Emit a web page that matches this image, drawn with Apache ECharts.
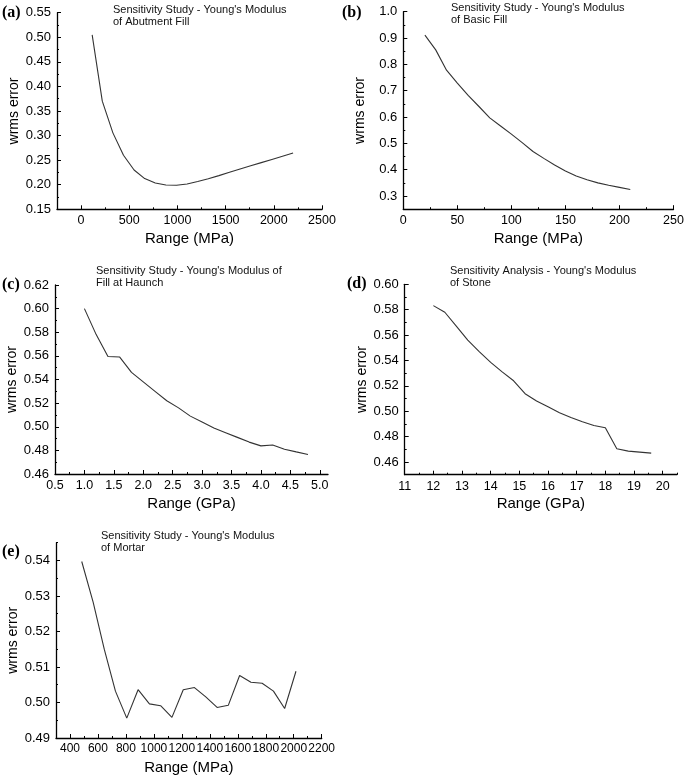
<!DOCTYPE html>
<html><head><meta charset="utf-8">
<script src="https://cdn.jsdelivr.net/npm/echarts@6/dist/echarts.min.js"></script>
<style>html,body{margin:0;padding:0;background:#fff}#c{width:685px;height:778px}</style>
</head><body><div id="c"></div>
<script>
// ---- Panel (a): Abutment Fill ----
const aX = [115, 220, 330, 440, 550, 660, 770, 880, 990, 1100, 1210, 1320, 1430, 1540, 1650, 1760, 1870, 1980, 2090, 2200];
const aY = [0.505, 0.370, 0.3055, 0.260, 0.230, 0.2125, 0.2035, 0.1995, 0.199, 0.2015, 0.2065, 0.212, 0.2185, 0.2255, 0.232, 0.2385, 0.245, 0.2515, 0.258, 0.2645];
const aXTicks = ['0', '500', '1000', '1500', '2000', '2500'];
const aYTicks = ['0.15', '0.20', '0.25', '0.30', '0.35', '0.40', '0.45', '0.50', '0.55'];

// ---- Panel (b): Basic Fill ----
const bX = [20, 30, 40, 50, 60, 70, 80, 90, 100, 110, 120, 130, 140, 150, 160, 170, 180, 190, 200, 210];
const bY = [0.911, 0.855, 0.778, 0.729, 0.682, 0.640, 0.597, 0.566, 0.535, 0.503, 0.469, 0.443, 0.418, 0.395, 0.376, 0.362, 0.350, 0.341, 0.333, 0.325];
const bXTicks = ['0', '50', '100', '150', '200', '250'];
const bYTicks = ['0.3', '0.4', '0.5', '0.6', '0.7', '0.8', '0.9', '1.0'];

// ---- Panel (c): Fill at Haunch ----
const cX = [1.0, 1.2, 1.4, 1.6, 1.8, 2.0, 2.2, 2.4, 2.6, 2.8, 3.0, 3.2, 3.4, 3.6, 3.8, 4.0, 4.2, 4.4, 4.6, 4.8];
const cY = [0.600, 0.578, 0.5595, 0.559, 0.546, 0.538, 0.530, 0.522, 0.516, 0.509, 0.504, 0.499, 0.495, 0.491, 0.487, 0.4838, 0.4845, 0.481, 0.4787, 0.4765];
const cXTicks = ['0.5', '1.0', '1.5', '2.0', '2.5', '3.0', '3.5', '4.0', '4.5', '5.0'];
const cYTicks = ['0.46', '0.48', '0.50', '0.52', '0.54', '0.56', '0.58', '0.60', '0.62'];

// ---- Panel (d): Stone ----
const dX = [12.0, 12.4, 12.8, 13.2, 13.6, 14.0, 14.4, 14.8, 15.2, 15.6, 16.0, 16.4, 16.8, 17.2, 17.6, 18.0, 18.4, 18.8, 19.2, 19.6];
const dY = [0.5832, 0.578, 0.567, 0.556, 0.547, 0.5385, 0.531, 0.524, 0.5138, 0.508, 0.5035, 0.4988, 0.4951, 0.4917, 0.4888, 0.487, 0.4704, 0.4686, 0.4678, 0.467];
const dXTicks = ['11', '12', '13', '14', '15', '16', '17', '18', '19', '20'];
const dYTicks = ['0.46', '0.48', '0.50', '0.52', '0.54', '0.56', '0.58', '0.60'];

// ---- Panel (e): Mortar ----
const eX = [484, 566, 645, 725, 806, 887, 968, 1048, 1129, 1210, 1290, 1371, 1452, 1532, 1613, 1694, 1774, 1855, 1935, 2016];
const eY = [0.5397, 0.5282, 0.515, 0.5032, 0.4956, 0.5036, 0.4996, 0.4991, 0.4958, 0.5036, 0.5042, 0.5016, 0.4986, 0.4992, 0.5076, 0.5057, 0.5054, 0.5032, 0.4983, 0.5088];
const eXTicks = ['400', '600', '800', '1000', '1200', '1400', '1600', '1800', '2000', '2200'];
const eYTicks = ['0.49', '0.50', '0.51', '0.52', '0.53', '0.54'];

const titles = [
  "Sensitivity Study - Young's Modulus\nof Abutment Fill",
  "Sensitivity Study - Young's Modulus\nof Basic Fill",
  "Sensitivity Study - Young's Modulus of\nFill at Haunch",
  "Sensitivity Analysis - Young's Modulus\nof Stone",
  "Sensitivity Study - Young's Modulus\nof Mortar"
];
const letters = ['(a)', '(b)', '(c)', '(d)', '(e)'];
const xNames = ['Range (MPa)', 'Range (MPa)', 'Range (GPa)', 'Range (GPa)', 'Range (MPa)'];
const yName = 'wrms error';

const SANS = "'Liberation Sans', Arial, sans-serif";
const SERIF = "'Liberation Serif', 'Times New Roman', serif";

const panels = [
  {x: aX, y: aY, xt: aXTicks, yt: aYTicks, xmin: -250, xmax: 2500, ymin: 0.15, ymax: 0.55,
   grid: {left: 57, top: 12.7, width: 265, height: 196.6}, title: {left: 113, top: 4}, letter: {left: 2, top: 5}},
  {x: bX, y: bY, xt: bXTicks, yt: bYTicks, xmin: 0, xmax: 250, ymin: 0.25, ymax: 1.0,
   grid: {left: 403.3, top: 11.7, width: 270.2, height: 197.5}, title: {left: 451, top: 2}, letter: {left: 342, top: 5}},
  {x: cX, y: cY, xt: cXTicks, yt: cYTicks, xmin: 0.5, xmax: 5.14, ymin: 0.46, ymax: 0.62,
   grid: {left: 55, top: 285, width: 273, height: 189}, title: {left: 96, top: 265}, letter: {left: 2, top: 277}},
  {x: dX, y: dY, xt: dXTicks, yt: dYTicks, xmin: 11, xmax: 20.5, ymin: 0.45, ymax: 0.60,
   grid: {left: 404.7, top: 284.3, width: 272.3, height: 190.4}, title: {left: 450, top: 265}, letter: {left: 347, top: 276}},
  {x: eX, y: eY, xt: eXTicks, yt: eYTicks, xmin: 300, xmax: 2200, ymin: 0.49, ymax: 0.545,
   grid: {left: 56, top: 542.7, width: 265.7, height: 195.3}, title: {left: 101, top: 530}, letter: {left: 2, top: 544}}
];

function minorTicks(ticks, min, max) {
  const v = ticks.map(Number);
  const half = (v[1] - v[0]) / 2;
  const out = [];
  for (let k = -4; k < 200; k++) {
    const t = +(v[0] + (2 * k + 1) * half).toFixed(8);
    if (t >= min - 1e-9 && t <= max + 1e-9) out.push(t);
  }
  return out;
}
function fmt(ticks) {
  return function (val) {
    for (const l of ticks) if (Math.abs(Number(l) - val) < 1e-7) return l;
    return '';
  };
}

const grid = [], xAxis = [], yAxis = [], series = [], title = [];
panels.forEach((p, i) => {
  grid.push(Object.assign({outerBoundsMode: 'none', containLabel: false}, p.grid));
  const xv = p.xt.map(Number), yv = p.yt.map(Number);
  const common = {type: 'value', gridIndex: i, splitLine: {show: false}, scale: true};
  xAxis.push(Object.assign({}, common, {
    min: p.xmin, max: p.xmax, position: 'bottom',
    axisLine: {show: true, onZero: false, lineStyle: {color: '#000', width: 1.3}},
    axisTick: {show: true, inside: true, length: 4, customValues: xv, lineStyle: {color: '#000', width: 1}},
    axisLabel: {show: true, customValues: xv, formatter: fmt(p.xt), color: '#000', fontSize: i === 4 ? 12 : 12.5, fontFamily: SANS, margin: 5},
    name: xNames[i], nameLocation: 'middle', nameGap: 22,
    nameTextStyle: {fontSize: 15, color: '#000', fontFamily: SANS}
  }));
  xAxis.push(Object.assign({}, common, {
    min: p.xmin, max: p.xmax, position: 'bottom',
    axisLine: {show: false, onZero: false},
    axisTick: {show: true, inside: true, length: 2, customValues: minorTicks(p.xt, p.xmin, p.xmax), lineStyle: {color: '#000', width: 1}},
    axisLabel: {show: false}
  }));
  yAxis.push(Object.assign({}, common, {
    min: p.ymin, max: p.ymax, position: 'left',
    axisLine: {show: true, onZero: false, lineStyle: {color: '#000', width: 1.3}},
    axisTick: {show: true, inside: true, length: 4, customValues: yv, lineStyle: {color: '#000', width: 1}},
    axisLabel: {show: true, customValues: yv, formatter: fmt(p.yt), color: '#000', fontSize: 13, fontFamily: SANS, margin: 6},
    name: yName, nameLocation: 'middle', nameGap: 36,
    nameTextStyle: {fontSize: 14, color: '#000', fontFamily: SANS}
  }));
  yAxis.push(Object.assign({}, common, {
    min: p.ymin, max: p.ymax, position: 'left',
    axisLine: {show: false, onZero: false},
    axisTick: {show: true, inside: true, length: 2, customValues: minorTicks(p.yt, p.ymin, p.ymax), lineStyle: {color: '#000', width: 1}},
    axisLabel: {show: false}
  }));
  series.push({
    type: 'line', xAxisIndex: 2 * i, yAxisIndex: 2 * i,
    data: p.x.map((x, j) => [x, p.y[j]]),
    showSymbol: false, symbol: 'none', smooth: false, silent: true,
    lineStyle: {color: '#333', width: 1.1}
  });
  title.push({text: titles[i], left: p.title.left, top: p.title.top, padding: 0,
    textStyle: {fontSize: 11, fontWeight: 'normal', color: '#111', fontFamily: SANS, lineHeight: 12}});
  title.push({text: letters[i], left: p.letter.left, top: p.letter.top, padding: 0,
    textStyle: {fontSize: 16, fontWeight: 'bold', color: '#000', fontFamily: SERIF}});
});

const chart = echarts.init(document.getElementById('c'), null, {renderer: 'canvas'});
chart.setOption({animation: false, backgroundColor: '#fff', title, grid, xAxis, yAxis, series});
</script>
</body></html>
